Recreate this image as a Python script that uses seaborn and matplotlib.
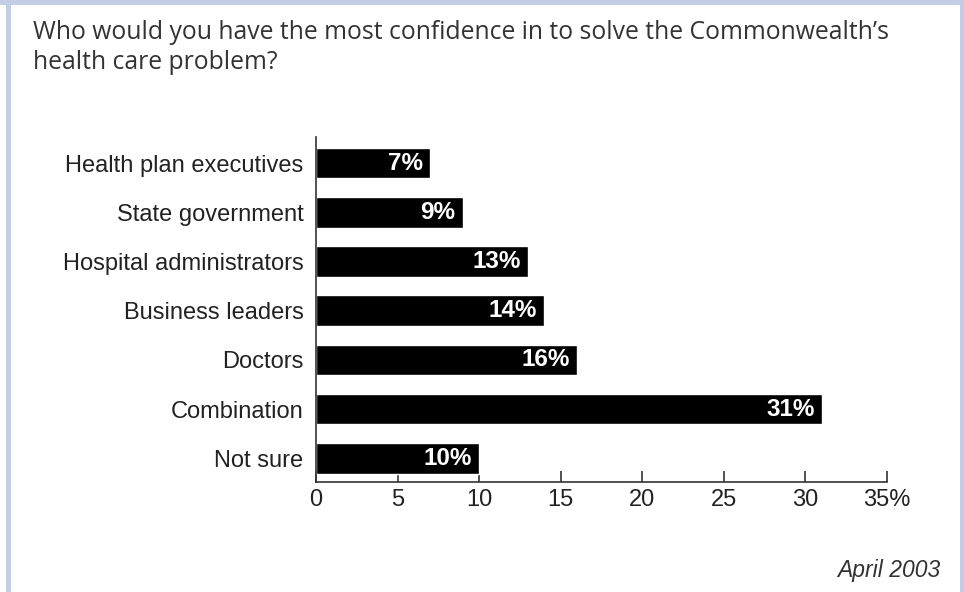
import numpy as np
import seaborn as sns
from matplotlib import pyplot as plt
from matplotlib.patches import Rectangle

categories = ['Health plan executives', 'State government', 'Hospital administrators',
              'Business leaders', 'Doctors', 'Combination', 'Not sure']
values = [7, 9, 13, 14, 16, 31, 10]
tick_values = [0, 5, 10, 15, 20, 25, 30, 35]
tick_labels = ['0', '5', '10', '15', '20', '25', '30', '35%']
title = "Who would you have the most confidence in to solve the Commonwealth\u2019s\nhealth care problem?"
note = 'April 2003'

sns.set_style('white')
plt.rcParams['font.family'] = ['Liberation Sans', 'DejaVu Sans']

W, H = 964, 592
fig = plt.figure(figsize=(W / 100, H / 100), dpi=100)
fig.patch.set_facecolor('#c3cde5')
# white panel inside the light blue frame
fig.patches.append(Rectangle((11 / W, 0), (960 - 11) / W, (H - 5) / H,
                             transform=fig.transFigure, facecolor='white',
                             edgecolor='none', zorder=-2))
fig.patches.append(Rectangle((0, 0), 6 / W, (H - 5) / H,
                             transform=fig.transFigure, facecolor='white',
                             edgecolor='none', zorder=-2))

ax = fig.add_axes([316 / W, 1 - 482 / H, (887 - 316) / W, (482 - 137) / H])
ax.set_facecolor('none')
sns.barplot(x=values, y=categories, orient='h', color='black', saturation=1,
            width=0.62, ax=ax)

for i, v in enumerate(values):
    ax.text(v - 0.45, i, f'{v}%', ha='right', va='center', color='white',
            fontsize=17.5, fontweight='bold')

ax.set_xlim(0, 35)
ax.set_ylim(6.48, -0.53)
ax.set_xticks(tick_values)
ax.set_xticklabels(tick_labels)
ax.set_xlabel('')
ax.set_ylabel('')
ax.tick_params(axis='x', bottom=True, direction='in', length=8, width=1.2,
               color='#333333', pad=5, labelsize=17, labelcolor='#222222')
ax.tick_params(axis='y', left=False, length=0, pad=9, labelsize=17,
               labelcolor='#222222')
sns.despine(ax=ax)
for s in ['left', 'bottom']:
    ax.spines[s].set_color('#333333')
    ax.spines[s].set_linewidth(1.2)

fig.text(33 / W, 1 - 20 / H, title, ha='left', va='top', fontsize=17.8,
         family=['Open Sans', 'DejaVu Sans'], color='#333333', linespacing=1.25)
fig.text(940 / W, 1 - 577 / H, note, ha='right', va='baseline', fontsize=16.5,
         style='italic', color='#333333')

fig.savefig('out.png', dpi=100)
